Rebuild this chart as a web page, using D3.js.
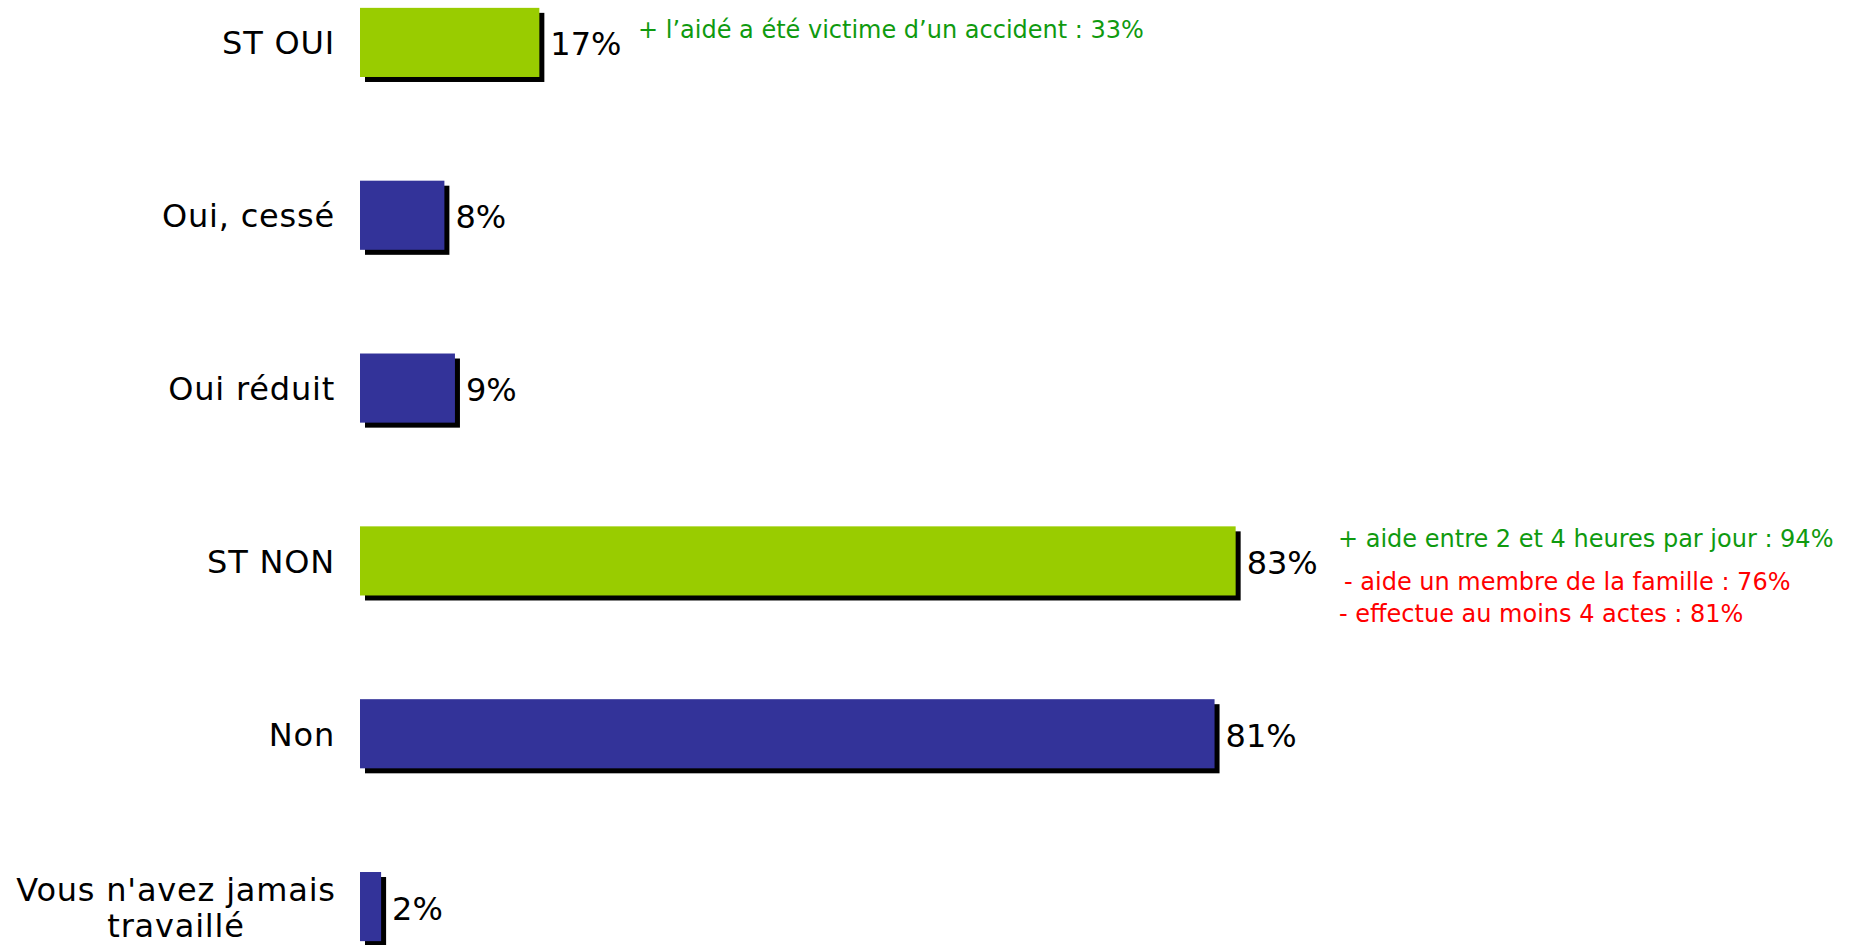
<!DOCTYPE html>
<html><head><meta charset="utf-8">
<script src="https://cdn.jsdelivr.net/npm/d3@7"></script>
<style>
html,body{margin:0;padding:0;background:#fff;}
svg{display:block;font-family:"DejaVu Sans",Verdana,sans-serif;}
</style></head>
<body>
<svg id="chart" width="1870" height="945"></svg>
<script>
const categories = ["ST OUI", "Oui, cessé", "Oui réduit", "ST NON", "Non", "Vous n'avez jamais travaillé"];
const values = [17, 8, 9, 83, 81, 2];
const isTotal = [true, false, false, true, false, false];
const notesOui = [{text: "+ l’aidé a été victime d’un accident : 33%", type: "plus"}];
const notesNon = [
  {text: "+ aide entre 2 et 4 heures par jour : 94%", type: "plus"},
  {text: "- aide un membre de la famille : 76%", type: "minus"},
  {text: "- effectue au moins 4 actes : 81%", type: "minus"}
];

const svg = d3.select("#chart");
const x = d3.scaleLinear().domain([0, 100]).range([360, 1415]);
const y = d3.scaleBand().domain(categories).range([-44, 993]).paddingInner(0.6).paddingOuter(0.3);
const green = "#99cc00", blue = "#333399";

const g = svg.append("g");
// shadows
g.selectAll("rect.shadow").data(values).join("rect")
  .attr("class", "shadow")
  .attr("x", x(0) + 5).attr("y", (d, i) => y(categories[i]) + 5)
  .attr("width", d => x(d) - x(0)).attr("height", y.bandwidth())
  .attr("fill", "#000");
g.selectAll("rect.bar").data(values).join("rect")
  .attr("class", "bar")
  .attr("x", x(0)).attr("y", (d, i) => y(categories[i]))
  .attr("width", d => x(d) - x(0)).attr("height", y.bandwidth())
  .attr("fill", (d, i) => isTotal[i] ? green : blue);

// value labels
g.selectAll("text.val").data(values).join("text")
  .attr("class", "val")
  .attr("x", d => x(d) + 11)
  .attr("y", (d, i) => y(categories[i]) + y.bandwidth() / 2 + 4)
  .attr("dominant-baseline", "middle")
  .attr("font-size", 32).attr("fill", "#000")
  .text(d => d + "%");

// category labels
categories.forEach((c, i) => {
  const cy = y(c) + y.bandwidth() / 2;
  const t = g.append("text").attr("text-anchor", "middle").attr("font-size", 32)
    .attr("letter-spacing", 0.8).attr("fill", "#000");
  if (c === "Vous n'avez jamais travaillé") {
    t.attr("x", 176).attr("y", cy - 6);
    t.append("tspan").attr("x", 176).attr("dy", 0).text("Vous n'avez jamais");
    t.append("tspan").attr("x", 176).attr("dy", 36).text("travaillé");
  } else {
    t.attr("text-anchor", "end").attr("x", 335).attr("y", cy + 3).attr("dominant-baseline", "middle").text(c);
  }
});

// annotations
const col = {plus: "#0f9a0f", minus: "#ff0000"};
const yOui = y("ST OUI");
g.selectAll("text.noteOui").data(notesOui).join("text")
  .attr("x", 638).attr("y", yOui + 23)
  .attr("dominant-baseline", "middle")
  .attr("font-size", 24).attr("fill", d => col[d.type]).text(d => d.text);
const yNon = y("ST NON");
const offs = [14, 57, 89], xs = [1338, 1344, 1339];
g.selectAll("text.noteNon").data(notesNon).join("text")
  .attr("x", (d, i) => xs[i]).attr("y", (d, i) => yNon + offs[i])
  .attr("dominant-baseline", "middle")
  .attr("font-size", 24).attr("fill", d => col[d.type]).text(d => d.text);
</script>
</body></html>
